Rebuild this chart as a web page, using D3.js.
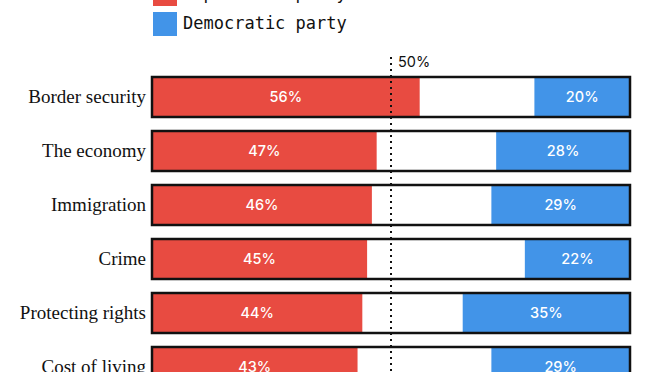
<!DOCTYPE html>
<html>
<head>
<meta charset="utf-8">
<script src="https://cdn.jsdelivr.net/npm/d3@7"></script>
<style>
  body { margin: 0; background: #fff; }
  svg { display: block; }
</style>
</head>
<body>
<div class="holder"></div>
<script>
// data
var issues = ["Border security", "The economy", "Immigration", "Crime", "Protecting rights", "Cost of living"];
var republican = [56, 47, 46, 45, 44, 43];
var democratic = [20, 28, 29, 22, 35, 29];
var legendLabels = ["Republican party", "Democratic party"];

var width = 662, height = 372;
var redColor = "#e84b41";
var blueColor = "#4294e8";

var chart = d3.select(".holder")
  .append("svg")
  .attr("width", width)
  .attr("height", height);

var x = d3.scaleLinear().domain([0, 100]).range([152, 630]);
// step 54, bar 40
var y = d3.scaleBand().domain(issues).range([77, 387]).paddingInner(14 / 54).paddingOuter(0);

var rows = issues.map(function(d, i) {
  return { issue: d, rep: republican[i], dem: democratic[i] };
});

// legend (top part is cropped off)
var legend = chart.append("g");
var legendColors = [redColor, blueColor];
legendLabels.forEach(function(t, i) {
  var ly = -18 + i * 30;
  legend.append("rect")
    .attr("x", 153).attr("y", ly)
    .attr("width", 24).attr("height", 24)
    .style("fill", legendColors[i]);
  legend.append("text")
    .attr("x", 183).attr("y", ly + 17)
    .style("font-family", "'DejaVu Sans Mono', monospace")
    .style("font-size", "17px")
    .style("fill", "#111")
    .text(t);
});

var row = chart.selectAll(".row")
  .data(rows)
  .enter().append("g")
  .attr("class", "row")
  .attr("transform", function(d) { return "translate(0," + y(d.issue) + ")"; });

row.append("rect")
  .attr("x", x(0)).attr("width", x(100) - x(0))
  .attr("height", y.bandwidth())
  .style("fill", "#fff");

row.append("rect")
  .attr("x", x(0))
  .attr("width", function(d) { return x(d.rep) - x(0); })
  .attr("height", y.bandwidth())
  .style("fill", redColor);

row.append("rect")
  .attr("x", function(d) { return x(100 - d.dem); })
  .attr("width", function(d) { return x(100) - x(100 - d.dem); })
  .attr("height", y.bandwidth())
  .style("fill", blueColor);

row.append("rect")
  .attr("x", x(0)).attr("width", x(100) - x(0))
  .attr("height", y.bandwidth())
  .style("fill", "none")
  .style("stroke", "#111")
  .style("stroke-width", 2.5);

var valueFont = "Inter, 'Noto Sans', sans-serif";

row.append("text")
  .attr("x", function(d) { return (x(0) + x(d.rep)) / 2; })
  .attr("y", y.bandwidth() / 2 + 5)
  .attr("text-anchor", "middle")
  .style("font-family", valueFont)
  .style("font-size", "14.5px")
  .style("font-weight", 500)
  .style("fill", "#fff")
  .text(function(d) { return d.rep + "%"; });

row.append("text")
  .attr("x", function(d) { return (x(100 - d.dem) + x(100)) / 2; })
  .attr("y", y.bandwidth() / 2 + 5)
  .attr("text-anchor", "middle")
  .style("font-family", valueFont)
  .style("font-size", "14.5px")
  .style("font-weight", 500)
  .style("fill", "#fff")
  .text(function(d) { return d.dem + "%"; });

row.append("text")
  .attr("x", 146)
  .attr("y", y.bandwidth() / 2 + 6)
  .attr("text-anchor", "end")
  .style("font-family", "'Liberation Serif', 'DejaVu Serif', serif")
  .style("font-size", "19px")
  .style("fill", "#111")
  .text(function(d) { return d.issue; });

// 50% reference line
chart.append("line")
  .attr("x1", x(50)).attr("x2", x(50))
  .attr("y1", 57).attr("y2", height)
  .style("stroke", "#111")
  .style("stroke-width", 2)
  .style("stroke-dasharray", "2,4");

chart.append("text")
  .attr("x", x(50) + 7).attr("y", 67)
  .style("font-family", valueFont)
  .style("font-size", "14.5px")
  .style("fill", "#111")
  .text("50%");
</script>
</body>
</html>
